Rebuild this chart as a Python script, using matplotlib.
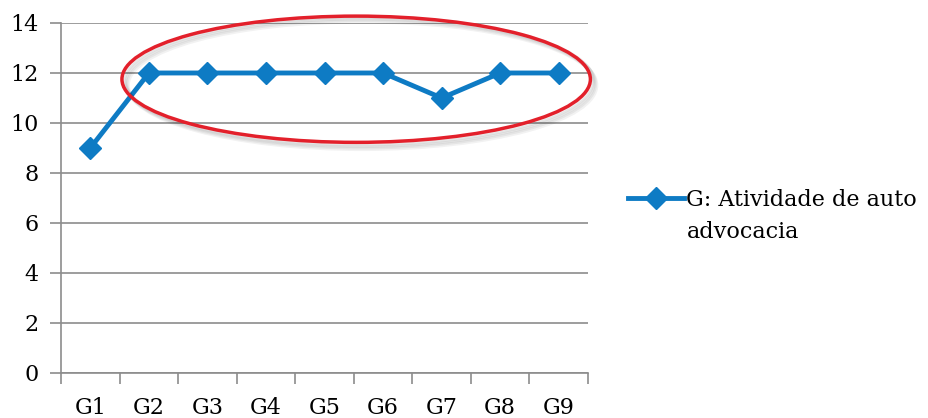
import matplotlib.pyplot as plt
from matplotlib.patches import Ellipse

# data
groups = ['G1', 'G2', 'G3', 'G4', 'G5', 'G6', 'G7', 'G8', 'G9']
values = [9, 12, 12, 12, 12, 12, 11, 12, 12]
series_name = 'G: Atividade de auto'
series_name_2 = 'advocacia'
y_ticks = [0, 2, 4, 6, 8, 10, 12, 14]

plt.rcParams['font.family'] = ['DejaVu Serif']

blue = '#0e7bc4'
grey = '#8c8c8c'
fs = 16

fig = plt.figure(figsize=(9.29, 4.18), dpi=100)
ax = fig.add_axes([0.0657, 0.1077, 0.5673, 0.8373])

x = list(range(len(groups)))
ax.plot(x, values, color=blue, lw=3.5, marker='D', markersize=11,
        label=series_name, zorder=5, clip_on=False)

ax.set_xlim(-0.5, len(groups) - 0.5)
ax.set_ylim(0, 14)
ax.set_yticks(y_ticks)
ax.set_xticks([i - 0.5 for i in range(len(groups) + 1)], minor=False)
ax.set_xticklabels([])
ax.set_xticks(x, minor=True)
ax.set_xticklabels(groups, minor=True)
ax.tick_params(axis='x', which='major', length=8, color=grey, width=1.2)
ax.tick_params(axis='x', which='minor', length=0, pad=17, labelsize=fs)
ax.tick_params(axis='y', length=8, color=grey, width=1.2, labelsize=fs, pad=8)

ax.grid(axis='y', color=grey, lw=1.2)
ax.set_axisbelow(True)
for s in ['top', 'right']:
    ax.spines[s].set_visible(False)
for s in ['left', 'bottom']:
    ax.spines[s].set_color(grey)
    ax.spines[s].set_linewidth(1.2)

# red highlight ellipse with a soft shadow
for k in range(4):
    sh = Ellipse((4.56 + 0.02 * (k + 1), 11.75 - 0.06 * (k + 1)), 8.0, 5.1,
                 fill=False, ec='black', lw=3, alpha=0.05, clip_on=False, zorder=6)
    ax.add_patch(sh)
ell = Ellipse((4.54, 11.75), 8.0, 5.05, fill=False, ec='#e3202b', lw=2.5,
              clip_on=False, zorder=7)
ax.add_patch(ell)

leg = ax.legend(loc='center left', bbox_to_anchor=(0.676, 0.5215),
                bbox_transform=fig.transFigure, frameon=False,
                fontsize=fs, handlelength=2.5, handletextpad=0.1,
                borderaxespad=0, borderpad=0)
fig.text(0.7395, 0.445, series_name_2, fontsize=fs, va='center', ha='left')

fig.savefig('out.png', dpi=100)
